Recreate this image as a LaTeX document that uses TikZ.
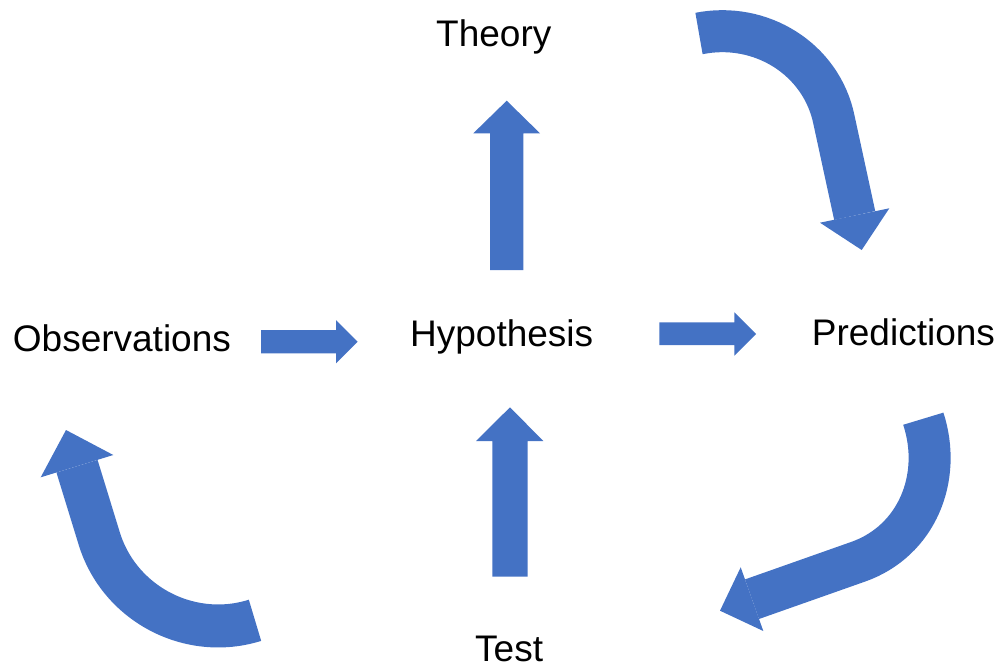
\documentclass[tikz,border=0pt]{standalone}
\usepackage{fontspec}
\setmainfont{Liberation Sans}
\definecolor{arrowblue}{HTML}{4472C4}
\begin{document}
\begin{tikzpicture}[x=1pt,y=-1pt,
  lbl/.style={anchor=base west,inner sep=0pt,font=\fontsize{37}{40}\selectfont},
  blockarrow/.style={fill=arrowblue,draw=none},
  curvebody/.style={draw=arrowblue,line width=#1,line cap=butt},
  curvebody/.default=42pt]
\useasboundingbox (0,0) rectangle (997,664);
% labels
\node[lbl] (theory) at (436,46.7) {Theory};
\node[lbl] (obs) at (12.7,351.7) {Observations};
\node[lbl] (hyp) at (410,346.7) {Hypothesis};
\node[lbl] (pred) at (811.7,345) {Predictions};
\node[lbl] (test) at (475,661.7) {Test};
% straight block arrows
\fill[blockarrow] (490,270) -- (490,133.3) -- (473.3,133.3) -- (506.7,100.7) -- (540,133.3) -- (523.3,133.3) -- (523.3,270) -- cycle;
\fill[blockarrow] (492.3,576.7) -- (492.3,441) -- (476,441) -- (510,407.3) -- (543.3,441) -- (527.7,441) -- (527.7,576.7) -- cycle;
\fill[blockarrow] (261,330) -- (336,330) -- (336,320) -- (357.7,341.7) -- (336,363.3) -- (336,353.3) -- (261,353.3) -- cycle;
\fill[blockarrow] (659.3,322.3) -- (734.3,322.3) -- (734.3,312.3) -- (756,334) -- (734.3,355.7) -- (734.3,345) -- (659.3,345) -- cycle;
% curved arrow: Theory -> Predictions
\coordinate (trS) at (699,33.5);
\coordinate (trP) at (834,120);
\coordinate (trE) at (854.7,215.5);
\draw[curvebody] (trS) .. controls (760.4,21.2) and (821.5,58.7) .. (trP) -- (trE);
\fill[blockarrow] (820,222.7) -- (861.7,250) -- (889.3,208.3) -- cycle;
% curved arrow: Predictions -> Test
\coordinate (brS) at (923.3,418.7);
\coordinate (brP) at (858.3,561.7);
\coordinate (brE) at (752,599.2);
\draw[curvebody] (brS) .. controls (942.6,477.7) and (916.8,541) .. (brP) -- (brE);
\fill[blockarrow] (740.7,567.3) -- (720,610.7) -- (763.3,631) -- cycle;
% curved arrow: Test -> Observations
\coordinate (blS) at (255,620.3);
\coordinate (blP) at (99.2,538.4);
\coordinate (blE) at (77,466.2);
\draw[curvebody=43pt] (blS) .. controls (189.7,640.8) and (119.2,603.8) .. (blP) -- (blE);
\fill[blockarrow] (40.7,477.3) -- (66,430) -- (113.3,455) -- cycle;
\end{tikzpicture}
\end{document}
